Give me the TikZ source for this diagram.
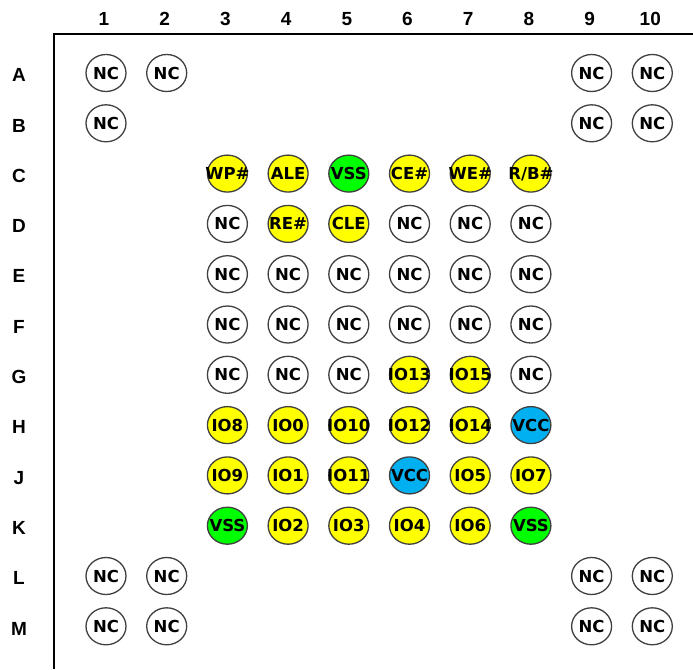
\documentclass[tikz,border=0pt]{standalone}
\usepackage{fontspec}
\setmainfont{Liberation Sans}
\newfontfamily\pinfont{DejaVu Sans}
\usetikzlibrary{shapes.geometric}
\definecolor{pinyel}{HTML}{FFFF00}
\definecolor{pingrn}{HTML}{00FF00}
\definecolor{pinblu}{HTML}{00B0F0}
\definecolor{pinedge}{HTML}{404040}
\tikzset{
  pin/.style={ellipse,draw=pinedge,line width=1.3pt,minimum width=40pt,minimum height=37pt,inner sep=0pt,fill=white},
  nc/.style={pin},
  sig/.style={pin,fill=pinyel},
  gnd/.style={pin,fill=pingrn},
  pwr/.style={pin,fill=pinblu},
  pintext/.style={font=\pinfont\bfseries\fontsize{16.5}{16.5}\selectfont,inner sep=0pt,text height=12pt,text depth=0pt},
  axislabel/.style={font=\bfseries\fontsize{19}{19}\selectfont,inner sep=0pt,text height=13.5pt,text depth=0pt},
  frame/.style={line width=1.6pt,black}
}
\begin{document}
\begin{tikzpicture}[x=1pt,y=-1pt]
\useasboundingbox (0,0) rectangle (693,669);
\coordinate (fc) at (54,34);
\coordinate (fr) at (693,34);
\coordinate (fb) at (54,669);
\draw[frame] (fr) -- (fc) -- (fb);
% column labels
\foreach \c/\t in {1/1,2/2,3/3,4/4,5/5,6/6,7/7,8/8,9/9,10/10}{
  \node[axislabel] (col\c) at ({106+(\c-1)*60.7-2},19) {\t};
}
% row labels
\foreach \r/\t in {0/A,1/B,2/C,3/D,4/E,5/F,6/G,7/H,8/J,9/K,10/L,11/M}{
  \node[axislabel] (row\t) at (19,{73+\r*50.3+2}) {\t};
}
% pins: row index / column / style / text
\foreach \r/\c/\s/\t in {
 0/1/nc/NC, 0/2/nc/NC, 0/9/nc/NC, 0/10/nc/NC,
 1/1/nc/NC, 1/9/nc/NC, 1/10/nc/NC,
 2/3/sig/WP\#, 2/4/sig/ALE, 2/5/gnd/VSS, 2/6/sig/CE\#, 2/7/sig/WE\#, 2/8/sig/{R/B\#},
 3/3/nc/NC, 3/4/sig/RE\#, 3/5/sig/CLE, 3/6/nc/NC, 3/7/nc/NC, 3/8/nc/NC,
 4/3/nc/NC, 4/4/nc/NC, 4/5/nc/NC, 4/6/nc/NC, 4/7/nc/NC, 4/8/nc/NC,
 5/3/nc/NC, 5/4/nc/NC, 5/5/nc/NC, 5/6/nc/NC, 5/7/nc/NC, 5/8/nc/NC,
 6/3/nc/NC, 6/4/nc/NC, 6/5/nc/NC, 6/6/sig/IO13, 6/7/sig/IO15, 6/8/nc/NC,
 7/3/sig/IO8, 7/4/sig/IO0, 7/5/sig/IO10, 7/6/sig/IO12, 7/7/sig/IO14, 7/8/pwr/VCC,
 8/3/sig/IO9, 8/4/sig/IO1, 8/5/sig/IO11, 8/6/pwr/VCC, 8/7/sig/IO5, 8/8/sig/IO7,
 9/3/gnd/VSS, 9/4/sig/IO2, 9/5/sig/IO3, 9/6/sig/IO4, 9/7/sig/IO6, 9/8/gnd/VSS,
 10/1/nc/NC, 10/2/nc/NC, 10/9/nc/NC, 10/10/nc/NC,
 11/1/nc/NC, 11/2/nc/NC, 11/9/nc/NC, 11/10/nc/NC}{
  \node[\s] (p\r-\c) at ({106+(\c-1)*60.7},{73+\r*50.3}) {};
  \node[pintext] (t\r-\c) at (p\r-\c.center) {\t};
}
\end{tikzpicture}
\end{document}
